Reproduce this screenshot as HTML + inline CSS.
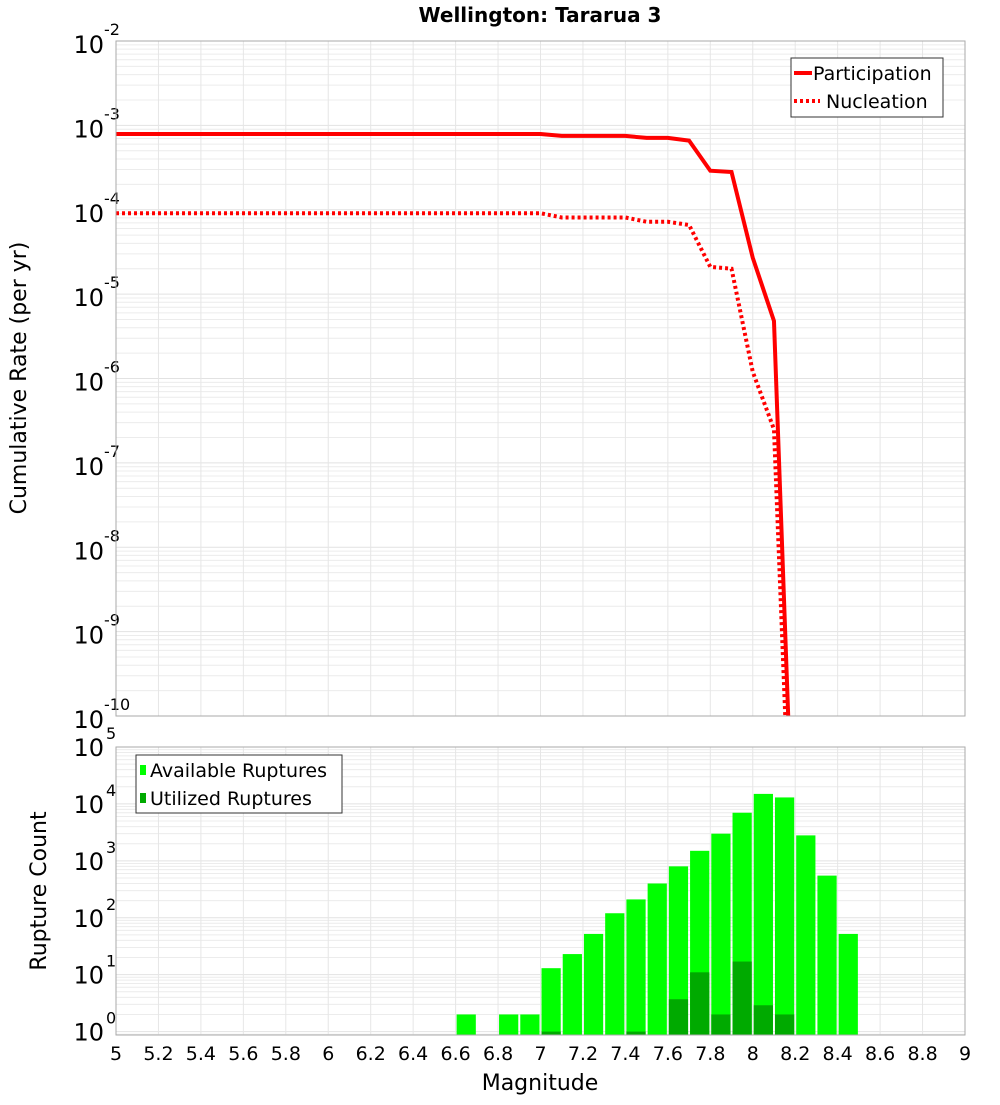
<!DOCTYPE html>
<html><head><meta charset="utf-8"><style>
html,body{margin:0;padding:0;background:#fff;}
svg text{font-family:"DejaVu Sans","Liberation Sans",sans-serif;}
</style></head><body>
<svg id="chart" width="1000" height="1100" xmlns="http://www.w3.org/2000/svg">
<text x="540" y="22" text-anchor="middle" font-size="20" font-weight="bold">Wellington: Tararua 3</text>
<text transform="translate(26,378) rotate(-90)" text-anchor="middle" font-size="22">Cumulative Rate (per yr)</text>
<text transform="translate(46,891) rotate(-90)" text-anchor="middle" font-size="22">Rupture Count</text>
<text x="540" y="1090" text-anchor="middle" font-size="22">Magnitude</text>
<g id="topPlot"></g>
<g id="botPlot"></g>
</svg>
<script>
const magBins = [5.0,5.1,5.2,5.3,5.4,5.5,5.6,5.7,5.8,5.9,6.0,6.1,6.2,6.3,6.4,6.5,6.6,6.7,6.8,6.9,7.0,7.1,7.2,7.3,7.4,7.5,7.6,7.7,7.8,7.9,8.0,8.1,8.2];
const participation = [7.9e-4,7.9e-4,7.9e-4,7.9e-4,7.9e-4,7.9e-4,7.9e-4,7.9e-4,7.9e-4,7.9e-4,7.9e-4,7.9e-4,7.9e-4,7.9e-4,7.9e-4,7.9e-4,7.9e-4,7.9e-4,7.9e-4,7.9e-4,7.9e-4,7.5e-4,7.5e-4,7.5e-4,7.5e-4,7.1e-4,7.1e-4,6.6e-4,2.9e-4,2.8e-4,2.7e-5,4.8e-6,5e-13];
const nucleation = [9.1e-5,9.1e-5,9.1e-5,9.1e-5,9.1e-5,9.1e-5,9.1e-5,9.1e-5,9.1e-5,9.1e-5,9.1e-5,9.1e-5,9.1e-5,9.1e-5,9.1e-5,9.1e-5,9.1e-5,9.1e-5,9.1e-5,9.1e-5,9.1e-5,8.1e-5,8.1e-5,8.1e-5,8.1e-5,7.2e-5,7.2e-5,6.6e-5,2.1e-5,2.0e-5,1.2e-6,2.5e-7,1e-13];
const barBins = [6.6,6.8,6.9,7.0,7.1,7.2,7.3,7.4,7.5,7.6,7.7,7.8,7.9,8.0,8.1,8.2,8.3,8.4];
const available = [2,2,2,13,23,52,120,210,400,800,1500,3000,7000,15000,13000,2800,550,52];
const utilizedBins = [7.0,7.4,7.6,7.7,7.8,7.9,8.0,8.1];
const utilized = [1,1,3.7,11,2,17,2.9,2];
const xTicks = ["5","5.2","5.4","5.6","5.8","6","6.2","6.4","6.6","6.8","7","7.2","7.4","7.6","7.8","8","8.2","8.4","8.6","8.8","9"];
const topExps = [-2,-3,-4,-5,-6,-7,-8,-9,-10];
const botExps = [5,4,3,2,1,0];

const NS="http://www.w3.org/2000/svg";
const L=116,R=965;
const X=v=>L+(v-5)/4*(R-L);
const TT=41,TB=716, BT=747,BB=1035;
const YT=v=>TT+(-2-Math.log10(v))/8*(TB-TT);
const BMIN=-0.06;
const YB=v=>BT+(5-Math.log10(v))/(5-BMIN)*(BB-BT);
function mk(p,tag,at){const e=document.createElementNS(NS,tag);for(const k in at)e.setAttribute(k,at[k]);p.appendChild(e);return e;}
const topG=document.getElementById('topPlot'),botG=document.getElementById('botPlot');

function grid(g,t,b,yf,lo,hi){
  for(let d=lo;d<hi;d++)for(let m=1;m<10;m++){const y=yf(m*Math.pow(10,d));if(y<t||y>b)continue;
    const ln=mk(g,'line',{x1:L,x2:R,y1:y,y2:y,stroke:m==1?'#e2e2e2':'#ececec','stroke-width':1});
    
    }
  for(let i=0;i<=20;i++){const x=X(5+i*0.2);
    const ln=mk(g,'line',{x1:x,x2:x,y1:t,y2:b,stroke:'#e6e6e6','stroke-width':1});
    
    }
}
grid(topG,TT,TB,YT,-10,-2);
grid(botG,BT,BB,YB,-1,5);

topExps.forEach(e=>{const y=YT(Math.pow(10,e));
  const t=mk(topG,'text',{x:104,y:y+12,'text-anchor':'end','font-size':24});
  
  
  t.textContent='10';
  const s=mk(topG,'text',{x:104,y:y-6,'font-size':16});
  
  
  s.textContent=String(e);
});
botExps.forEach(e=>{const y=YB(Math.pow(10,e));
  const t=mk(botG,'text',{x:104,y:y+9,'text-anchor':'end','font-size':24});
  
  
  t.textContent='10';
  const s=mk(botG,'text',{x:106,y:y-8,'font-size':16});
  
  
  s.textContent=String(e);
});
xTicks.forEach(s=>{
  const t=mk(botG,'text',{x:X(parseFloat(s)),y:1060,'text-anchor':'middle','font-size':19});
  
  
  t.textContent=s;
});

const cp=mk(topG,'clipPath',{id:'cpt'});mk(cp,'rect',{x:L,y:TT,width:R-L,height:TB-TT});
function line(vals,dash,name){
  const pts=magBins.map((m,i)=>X(m)+','+YT(vals[i])).join(' ');
  const p=mk(topG,'polyline',{points:pts,fill:'none',stroke:'#ff0000','stroke-width':4,'clip-path':'url(#cpt)'});
  if(dash)p.setAttribute('stroke-dasharray','3,3');
  
  
}
line(participation,false,'participation-line');
line(nucleation,true,'nucleation-line');

const w=X(5.1)-X(5.0);
barBins.forEach((m,i)=>{
  const y=YB(available[i]);
  const r=mk(botG,'rect',{x:X(m)+1,y:y,width:w-2,height:BB-y,fill:'#00ff00'});
  
  
});
utilizedBins.forEach((m,i)=>{
  const y=YB(utilized[i]);
  const r=mk(botG,'rect',{x:X(m)+1,y:y,width:w-2,height:BB-y,fill:'#00aa00'});
  
  
});

[[TT,TB,topG],[BT,BB,botG]].forEach(([t,b,g])=>{
  const r=mk(g,'rect',{x:L,y:t,width:R-L,height:b-t,fill:'none',stroke:'#aaaaaa','stroke-width':1});
  
  
});

const lg=mk(topG,'g',{});


mk(lg,'rect',{x:791,y:58,width:152,height:59,fill:'#fff',stroke:'#333'});
mk(lg,'line',{x1:794,x2:812,y1:73,y2:73,stroke:'#f00','stroke-width':4});
mk(lg,'line',{x1:794,x2:820,y1:101,y2:101,stroke:'#f00','stroke-width':4,'stroke-dasharray':'3,3'});
const l1=mk(lg,'text',{x:813,y:80,'font-size':19});l1.textContent='Participation';
const l2=mk(lg,'text',{x:826,y:108,'font-size':19});l2.textContent='Nucleation';

const lb=mk(botG,'g',{});


mk(lb,'rect',{x:136,y:755,width:206,height:58,fill:'#fff',stroke:'#333'});
mk(lb,'rect',{x:140,y:765,width:6,height:10,fill:'#00ff00'});
mk(lb,'rect',{x:140,y:793,width:6,height:10,fill:'#00aa00'});
const b1=mk(lb,'text',{x:150,y:777,'font-size':19});b1.textContent='Available Ruptures';
const b2=mk(lb,'text',{x:150,y:805,'font-size':19});b2.textContent='Utilized Ruptures';
</script>
</body></html>
